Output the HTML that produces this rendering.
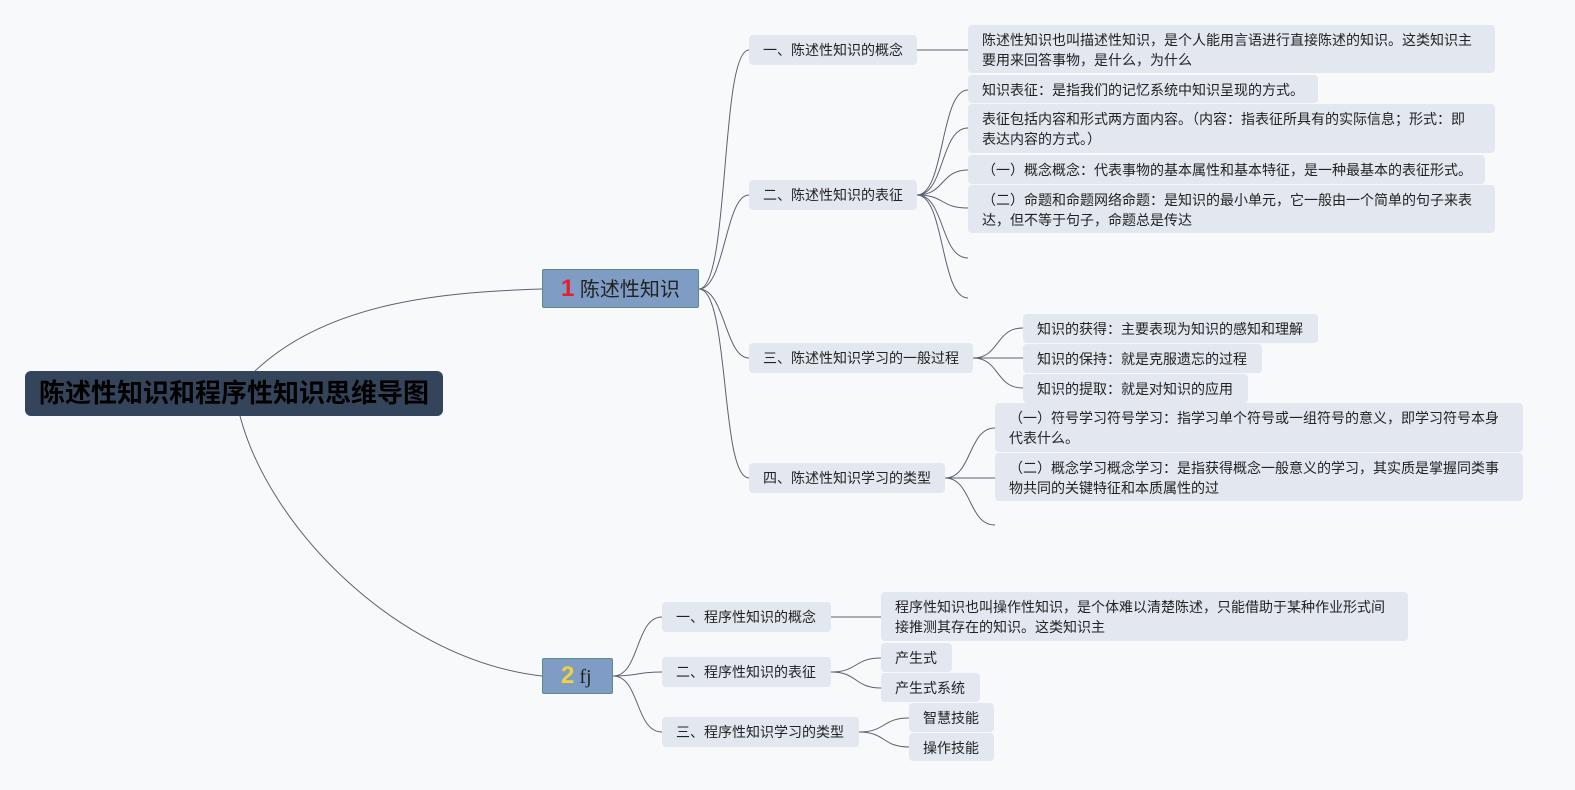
<!DOCTYPE html>
<html><head><meta charset="utf-8"><style>
body{margin:0;width:1575px;height:790px;background:#f8f9fb;position:relative;overflow:hidden;font-family:"Liberation Sans","Noto Sans CJK SC",sans-serif;}
.n{position:absolute;background:#e3e8f0;border-radius:4px;font-size:14px;line-height:20px;color:#222;box-sizing:border-box;padding:5px 0 0 14px;white-space:nowrap;}
svg{position:absolute;left:0;top:0}
</style></head><body>
<svg width="1575" height="790" fill="none" stroke="#5a6270" stroke-width="1">
<path d="M255 371 C330 300 450 292 542 289"/>
<path d="M240 416 C270 530 400 660 542 676"/>
<path d="M699 289 C730 289 720 50 749 50"/>
<path d="M699 289 C725 289 725 195 749 195"/>
<path d="M699 289 C725 289 725 358 749 358"/>
<path d="M699 289 C730 289 720 478 749 478"/>
<path d="M917 50 L968 50"/>
<path d="M917 195 C945 195 940 90 968 90"/>
<path d="M917 195 C945 195 940 128 968 128"/>
<path d="M917 195 C945 195 940 170 968 170"/>
<path d="M917 195 C945 195 940 208 968 208"/>
<path d="M917 195 C945 195 940 258 968 258"/>
<path d="M917 195 C945 195 940 298 968 298"/>
<path d="M973 358 C1000 358 995 328 1023 328"/>
<path d="M973 358 L1023 358"/>
<path d="M973 358 C1000 358 995 388 1023 388"/>
<path d="M945 478 C972 478 968 428 995 428"/>
<path d="M945 478 L995 478"/>
<path d="M945 478 C972 478 968 525 995 525"/>
<path d="M613 676 C640 676 635 617 662 617"/>
<path d="M613 676 C640 676 635 672 662 672"/>
<path d="M613 676 C640 676 635 732 662 732"/>
<path d="M831 617 L881 617"/>
<path d="M831 672 C858 672 854 658 881 658"/>
<path d="M831 672 C858 672 854 688 881 688"/>
<path d="M859 732 C886 732 882 718 909 718"/>
<path d="M859 732 C886 732 882 747 909 747"/>
</svg>
<div style="position:absolute;left:25px;top:371px;width:418px;height:45px;background:#34445a;border-radius:6px;font-size:26px;font-weight:bold;color:#000;line-height:45px;text-align:center;">陈述性知识和程序性知识思维导图</div>
<div style="position:absolute;left:542px;top:269px;width:157px;height:39px;background:#7f9dc4;border:1px solid #5b8a88;box-sizing:border-box;border-radius:2px;font-size:20px;line-height:37px;color:#222;padding-left:18px;"><b style="color:#e0202e;font-size:24px">1</b> 陈述性知识</div>
<div style="position:absolute;left:542px;top:658px;width:71px;height:36px;background:#7f9dc4;border:1px solid #5b8a88;box-sizing:border-box;border-radius:2px;font-size:20px;line-height:34px;color:#222;padding-left:18px;font-family:'Liberation Serif',serif"><b style="color:#f2d23a;font-size:24px;font-family:'Liberation Sans',sans-serif">2</b> fj</div>

<div class="n" style="left:749px;top:35px;width:168px;height:30px">一、陈述性知识的概念</div>
<div class="n" style="left:749px;top:180px;width:168px;height:30px">二、陈述性知识的表征</div>
<div class="n" style="left:749px;top:343px;width:224px;height:30px">三、陈述性知识学习的一般过程</div>
<div class="n" style="left:749px;top:463px;width:196px;height:30px">四、陈述性知识学习的类型</div>

<div class="n" style="left:968px;top:25px;width:527px;height:48px">陈述性知识也叫描述性知识，是个人能用言语进行直接陈述的知识。这类知识主<br>要用来回答事物，是什么，为什么</div>
<div class="n" style="left:968px;top:75px;width:350px;height:28px">知识表征：是指我们的记忆系统中知识呈现的方式。</div>
<div class="n" style="left:968px;top:104px;width:527px;height:49px">表征包括内容和形式两方面内容。（内容：指表征所具有的实际信息；形式：即<br>表达内容的方式。）</div>
<div class="n" style="left:968px;top:155px;width:517px;height:29px">（一）概念概念：代表事物的基本属性和基本特征，是一种最基本的表征形式。</div>
<div class="n" style="left:968px;top:185px;width:527px;height:48px">（二）命题和命题网络命题：是知识的最小单元，它一般由一个简单的句子来表<br>达，但不等于句子，命题总是传达</div>

<div class="n" style="left:1023px;top:314px;width:295px;height:29px">知识的获得：主要表现为知识的感知和理解</div>
<div class="n" style="left:1023px;top:344px;width:239px;height:29px">知识的保持：就是克服遗忘的过程</div>
<div class="n" style="left:1023px;top:374px;width:225px;height:29px">知识的提取：就是对知识的应用</div>
<div class="n" style="left:995px;top:403px;width:528px;height:49px">（一）符号学习符号学习：指学习单个符号或一组符号的意义，即学习符号本身<br>代表什么。</div>
<div class="n" style="left:995px;top:453px;width:528px;height:48px">（二）概念学习概念学习：是指获得概念一般意义的学习，其实质是掌握同类事<br>物共同的关键特征和本质属性的过</div>

<div class="n" style="left:662px;top:602px;width:169px;height:30px">一、程序性知识的概念</div>
<div class="n" style="left:662px;top:657px;width:169px;height:30px">二、程序性知识的表征</div>
<div class="n" style="left:662px;top:717px;width:197px;height:30px">三、程序性知识学习的类型</div>
<div class="n" style="left:881px;top:592px;width:527px;height:49px">程序性知识也叫操作性知识，是个体难以清楚陈述，只能借助于某种作业形式间<br>接推测其存在的知识。这类知识主</div>
<div class="n" style="left:881px;top:643px;width:71px;height:29px">产生式</div>
<div class="n" style="left:881px;top:673px;width:99px;height:29px">产生式系统</div>
<div class="n" style="left:909px;top:703px;width:85px;height:29px">智慧技能</div>
<div class="n" style="left:909px;top:733px;width:85px;height:28px">操作技能</div>
</body></html>
